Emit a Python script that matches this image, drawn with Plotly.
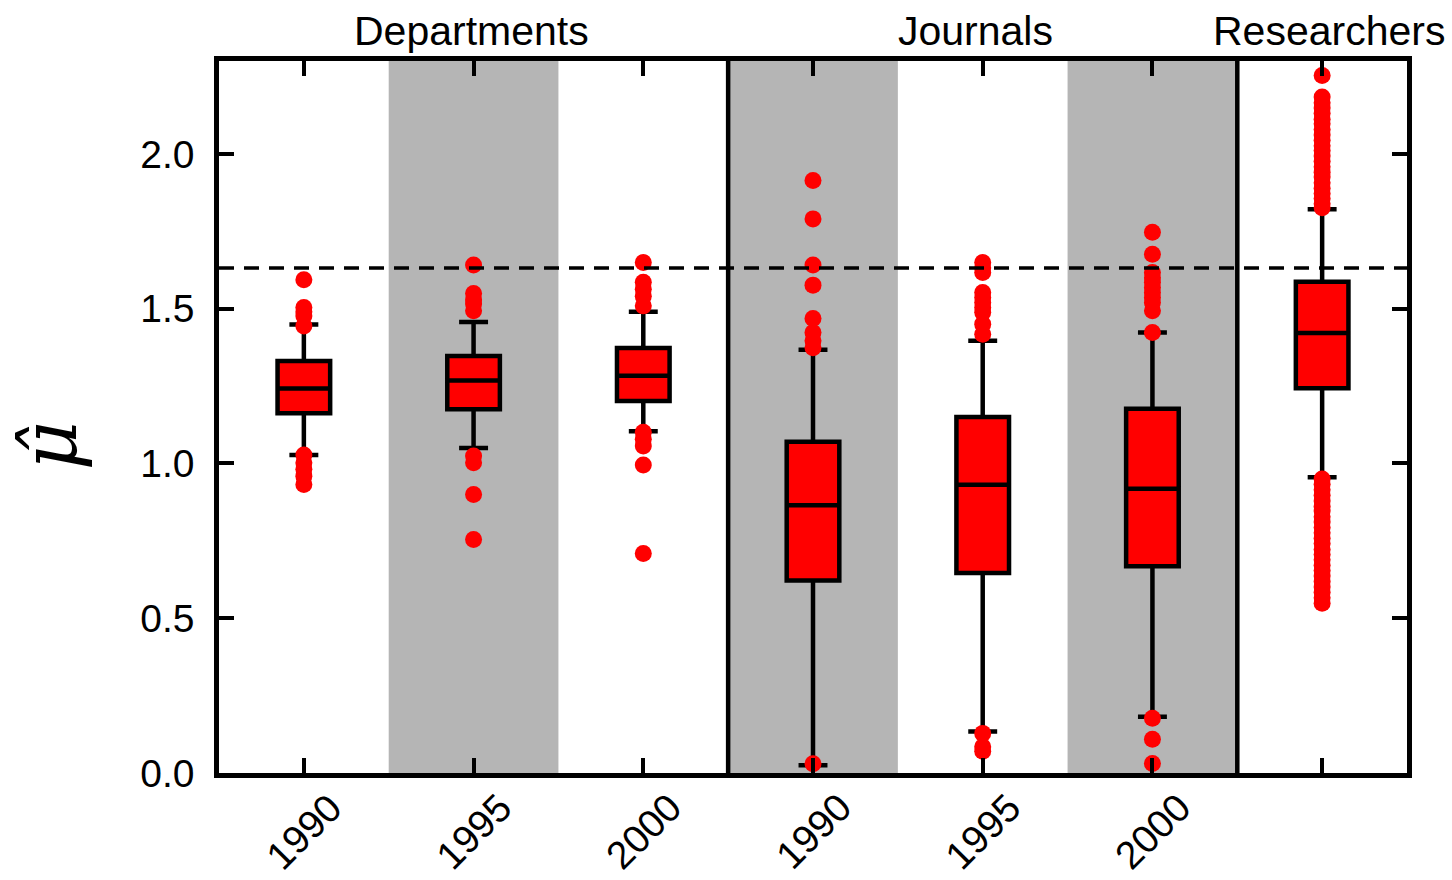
import plotly.graph_objects as go

# Positions on the x axis: three department years, three journal years, researchers
positions = [0, 1, 2, 3, 4, 5, 6]
tick_labels = ["1990", "1995", "2000", "1990", "1995", "2000", ""]

# Box statistics of mu-hat per group
q1 = [1.162, 1.175, 1.202, 0.622, 0.646, 0.668, 1.243]
median = [1.242, 1.268, 1.283, 0.865, 0.931, 0.918, 1.421]
q3 = [1.331, 1.347, 1.373, 1.070, 1.150, 1.177, 1.587]
lower_fence = [1.027, 1.050, 1.104, 0.025, 0.134, 0.182, 0.955]
upper_fence = [1.449, 1.457, 1.490, 1.367, 1.396, 1.423, 1.821]

# Outliers per group
outliers_dep_1990 = [1.593, 1.504, 1.490, 1.476, 1.444, 1.027, 1.002, 0.981, 0.959, 0.932]
outliers_dep_1995 = [1.641, 1.549, 1.528, 1.515, 1.493, 1.024, 1.002, 0.900, 0.754]
outliers_dep_2000 = [1.649, 1.585, 1.563, 1.540, 1.509, 1.101, 1.078, 1.056, 0.995, 0.709]
outliers_jou_1990 = [1.914, 1.790, 1.641, 1.576, 1.468, 1.423, 1.396, 1.374, 0.030]
outliers_jou_1995 = [1.649, 1.632, 1.617, 1.552, 1.536, 1.520, 1.504, 1.488, 1.450, 1.417, 0.128, 0.085, 0.070]
outliers_jou_2000 = [1.747, 1.676, 1.617, 1.600, 1.585, 1.568, 1.552, 1.536, 1.520, 1.493, 1.423, 0.177, 0.109, 0.031]
outliers_res = [2.253, 2.184, 2.165, 2.148, 2.131, 2.112, 2.097, 2.079, 2.061, 2.044,
                2.026, 2.011, 1.993, 1.976, 1.958, 1.941, 1.925, 1.907, 1.889, 1.872,
                1.856, 1.839, 1.826,
                0.950, 0.933, 0.915, 0.897, 0.879, 0.862, 0.846, 0.828, 0.811, 0.793,
                0.776, 0.758, 0.741, 0.722, 0.706, 0.689, 0.671, 0.654, 0.636, 0.619,
                0.601, 0.584, 0.566, 0.548]
outlier_groups = [outliers_dep_1990, outliers_dep_1995, outliers_dep_2000,
                  outliers_jou_1990, outliers_jou_1995, outliers_jou_2000, outliers_res]

reference_level = 1.631
group_titles = ["Departments", "Journals", "Researchers"]
group_title_x = [0.99, 3.96, 6.04]
shaded_positions = [1, 3, 5]
separator_x = [2.5, 5.5]

FONT = "Liberation Sans, Arial, Helvetica, sans-serif"

fig = go.Figure()

# Outlier dots
ox, oy = [], []
for p, vals in zip(positions, outlier_groups):
    ox.extend([p] * len(vals))
    oy.extend(vals)
fig.add_trace(go.Scatter(
    x=ox, y=oy, mode="markers",
    marker=dict(color="#ff0000", size=17, line=dict(width=0)),
    showlegend=False, hoverinfo="y",
))

# Boxes from precomputed statistics
fig.add_trace(go.Box(
    x=positions, q1=q1, median=median, q3=q3,
    lowerfence=lower_fence, upperfence=upper_fence,
    width=0.31, whiskerwidth=0.55, boxpoints=False,
    fillcolor="#ff0000", line=dict(color="black", width=4.5),
    showlegend=False,
))

shapes = []
for p in shaded_positions:
    shapes.append(dict(type="rect", xref="x", yref="paper", x0=p - 0.5, x1=p + 0.5,
                       y0=0, y1=1, fillcolor="#b5b5b5", line=dict(width=0), layer="below"))
for sx in separator_x:
    shapes.append(dict(type="line", xref="x", yref="paper", x0=sx, x1=sx, y0=0, y1=1,
                       line=dict(color="black", width=4.5), layer="above"))
shapes.append(dict(type="line", xref="paper", yref="y", x0=0, x1=1,
                   y0=reference_level, y1=reference_level,
                   line=dict(color="black", width=3.5, dash="15px,10px"), layer="above"))

annotations = []
for t, gx in zip(group_titles, group_title_x):
    annotations.append(dict(text=t, x=gx, xref="x", y=1, yref="paper",
                            yanchor="middle", xanchor="center", yshift=30, showarrow=False,
                            font=dict(family=FONT, size=41, color="black")))
# Rotated year labels under the x axis
for p, lab in zip(positions, tick_labels):
    if lab:
        annotations.append(dict(text=lab, x=p, xref="x", y=0, yref="paper",
                                yshift=-58, textangle=-45, showarrow=False,
                                xanchor="center", yanchor="middle",
                                font=dict(family=FONT, size=39, color="black")))
annotations.append(dict(text="<i>\u03bc\u0302</i>", x=-0.143, xref="paper", y=0.459, yref="paper",
                        textangle=-90, showarrow=False, xanchor="center", yanchor="middle",
                        font=dict(family="DejaVu Serif, serif", size=76, color="black")))

fig.update_layout(
    width=1452, height=880,
    margin=dict(l=219, r=45, t=61, b=107),
    paper_bgcolor="white", plot_bgcolor="white",
    shapes=shapes, annotations=annotations,
    font=dict(family=FONT, size=39, color="black"),
    xaxis=dict(range=[-0.5, 6.5], tickvals=positions, showticklabels=False,
               ticks="inside", ticklen=15, tickwidth=3.5, tickcolor="black",
               showline=True, linewidth=4.5, linecolor="black", mirror="ticks",
               showgrid=False, zeroline=False, automargin=False),
    yaxis=dict(range=[0, 2.3], tickvals=[0, 0.5, 1.0, 1.5, 2.0], tickformat=".1f",
               ticks="inside", ticklen=15, tickwidth=3.5, tickcolor="black",
               showline=True, linewidth=4.5, linecolor="black", mirror="ticks",
               showgrid=False, zeroline=False, automargin=False,
               tickfont=dict(size=39), ticklabelstandoff=12),
)

fig.write_html("out.html")
